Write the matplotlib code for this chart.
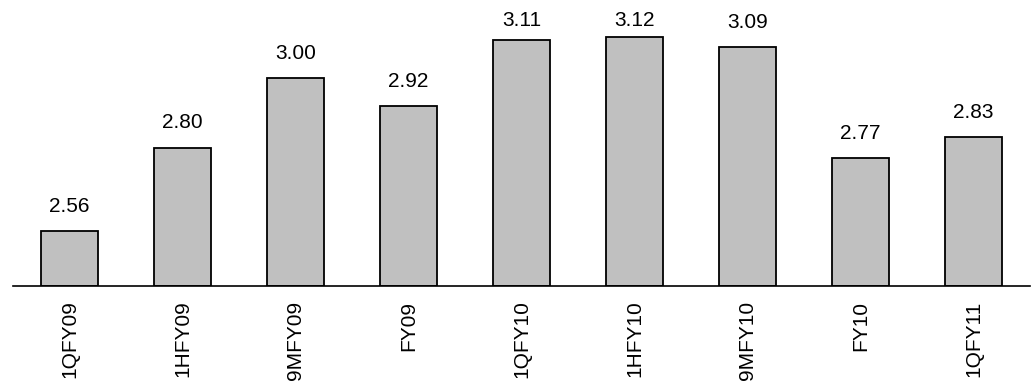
import matplotlib
matplotlib.use("Agg")
import matplotlib.pyplot as plt

plt.rcParams['font.family'] = ['Liberation Sans', 'DejaVu Sans']

periods = ["1QFY09", "1HFY09", "9MFY09", "FY09", "1QFY10", "1HFY10", "9MFY10", "FY10", "1QFY11"]
values = [2.56, 2.80, 3.00, 2.92, 3.11, 3.12, 3.09, 2.77, 2.83]

fig = plt.figure(figsize=(10.36, 3.83), dpi=100)
ax = fig.add_axes([13 / 1036, 1 - 286 / 383, (1030 - 13) / 1036, (286 - 9) / 383])

x = range(len(periods))
ax.bar(x, [v - 2.4 for v in values], bottom=2.4, width=0.5,
       color="#C0C0C0", edgecolor="black", linewidth=1.3)

# value labels sit above each bar, kept inside the plot area near the top
label_gap = 0.055
label_ceiling = 3.151
for xi, v in zip(x, values):
    ax.text(xi, min(v + label_gap, label_ceiling), f"{v:.2f}",
            ha="center", va="baseline", fontsize=15)

ax.set_xlim(-0.5, 8.5)
ax.set_ylim(2.4, 3.2)
ax.set_xticks(list(x))
ax.set_xticklabels(periods, rotation=90, fontsize=15)
ax.tick_params(axis="x", length=0, pad=10.5)
ax.set_yticks([])
for side in ("top", "right", "left"):
    ax.spines[side].set_visible(False)
ax.spines["bottom"].set_linewidth(1.2)

fig.savefig("out.png", dpi=100)
